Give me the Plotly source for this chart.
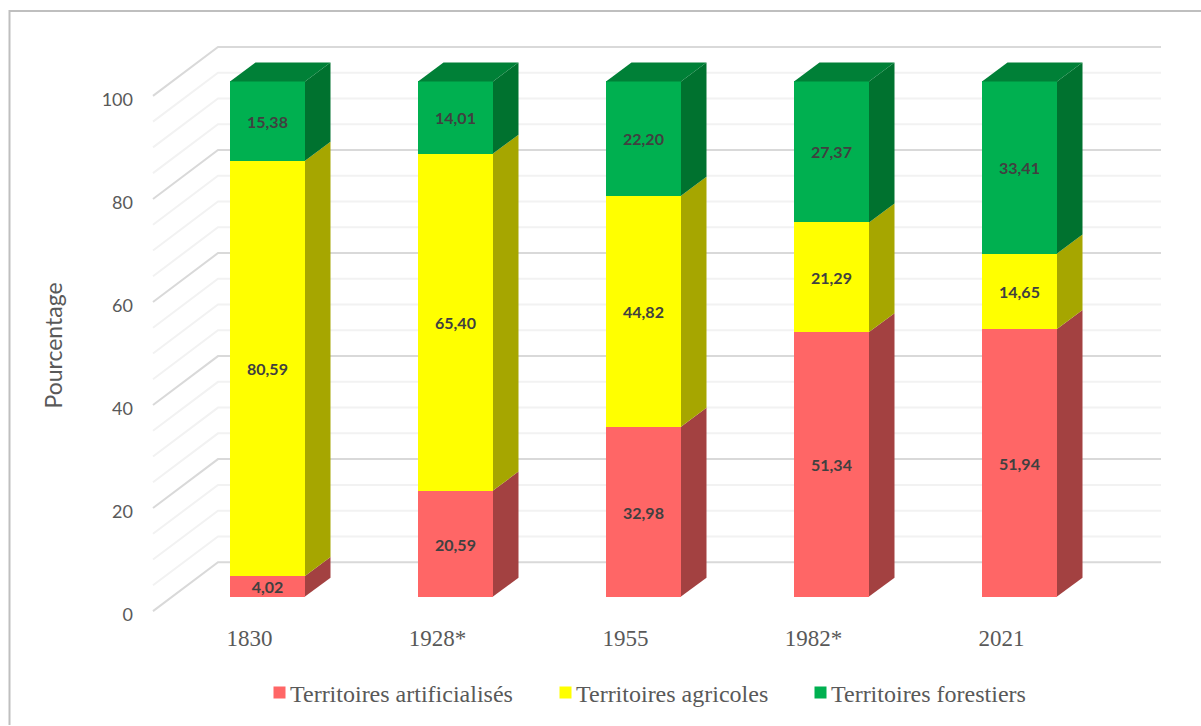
import plotly.graph_objects as go

# ---- data ----
categories = ["1830", "1928*", "1955", "1982*", "2021"]
artificialises = [4.02, 20.59, 32.98, 51.34, 51.94]
agricoles = [80.59, 65.40, 44.82, 21.29, 14.65]
forestiers = [15.38, 14.01, 22.20, 27.37, 33.41]
y_ticks = [0, 20, 40, 60, 80, 100]
grid_minor = [5, 10, 15, 25, 30, 35, 45, 50, 55, 65, 70, 75, 85, 90, 95]
series_names = ["Territoires artificialisés", "Territoires agricoles", "Territoires forestiers"]

# ---- styles ----
FRONT = ["#FF6666", "#FFFF00", "#00B050"]
SIDE = ["#A34141", "#A6A600", "#00722F"]
TOP = "#008037"
TXT = "#595959"
LBL = "#404040"
SANS = "Lato"
SERIF = "Liberation Serif"

# ---- geometry, in axis units (1 x unit = one category, 1 y unit = one percent) ----
W, H = 1201, 726
PX_X = 188.0
PX_Y = 5.16
X0_PX = 267.5
Y0_PX = 597.5
ML, MR, MT, MB = 140, 36, 31, 65
BAR_W = 75 / PX_X
DX = 25.5 / PX_X
DY = 19.0 / PX_Y
FRONT_Y = -14.5 / PX_Y
BACK_Y = 34.5 / PX_Y
FRONT_X = (153 - X0_PX) / PX_X
BACK_X = (218 - X0_PX) / PX_X
RIGHT_X = (1161 - X0_PX) / PX_X
LABEL_SHIFT = -18.0 / PX_X
TICK_Y_SHIFT = -3.5 / PX_Y

x_pos = list(range(len(categories)))
series = [artificialises, agricoles, forestiers]
legend_ids = ["legend", "legend2", "legend3"]

fig = go.Figure()


def lab(v):
    return f"{v:.2f}".replace(".", ",")


# front faces
for k, vals in enumerate(series):
    fig.add_trace(go.Bar(
        x=x_pos, y=vals, width=BAR_W, name=series_names[k], legend=legend_ids[k],
        marker=dict(color=FRONT[k], line=dict(width=0)),
        text=[lab(v) for v in vals], textposition="inside", textangle=0,
        insidetextanchor="middle", constraintext="none",
        textfont=dict(family=SANS, size=16, color=LBL, weight="bold"),
        hovertemplate="%{y:.2f}<extra>" + series_names[k] + "</extra>",
    ))

# side faces and top faces
base = [0.0] * len(categories)
for k, vals in enumerate(series):
    for i, v in enumerate(vals):
        xr = i + BAR_W / 2
        y0, y1 = base[i], base[i] + v
        fig.add_trace(go.Scatter(
            x=[xr, xr + DX, xr + DX, xr, xr],
            y=[y0, y0 + DY, y1 + DY, y1, y0],
            mode="lines", fill="toself", fillcolor=SIDE[k], line=dict(width=0),
            hoverinfo="skip", showlegend=False,
        ))
        if k == len(series) - 1:
            xl = i - BAR_W / 2
            fig.add_trace(go.Scatter(
                x=[xl, xr, xr + DX, xl + DX, xl],
                y=[y1, y1, y1 + DY, y1 + DY, y1],
                mode="lines", fill="toself", fillcolor=TOP, line=dict(width=0),
                hoverinfo="skip", showlegend=False,
            ))
        base[i] = y1

plot_h = H - MT - MB
plot_w = W - ML - MR

# 3D wall gridlines
shapes = []
for vals, col in ((grid_minor, "#F2F2F2"), (y_ticks, "#D9D9D9")):
    for v in vals:
        shapes.append(dict(
            type="path", xref="x", yref="y", layer="below",
            path=f"M {FRONT_X} {v + FRONT_Y} L {BACK_X} {v + BACK_Y} L {RIGHT_X} {v + BACK_Y}",
            line=dict(color=col, width=2),
        ))
# chart frame (top and left edges visible in the crop)
frame_l = (9.5 - ML) / plot_w
frame_r = (W - ML) / plot_w
frame_t = (H - MB - 11) / plot_h
frame_b = -MB / plot_h
shapes.append(dict(type="path", xref="paper", yref="paper", layer="below",
                   path=f"M {frame_l} {frame_b} L {frame_l} {frame_t} L {frame_r} {frame_t}",
                   line=dict(color="#BFBFBF", width=2)))

leg_y = (H - MB - 693) / plot_h


def leg_x(px):
    return (px - ML) / plot_w


leg_common = dict(orientation="h", yanchor="middle", xanchor="left", y=leg_y,
                  bgcolor="rgba(0,0,0,0)", font=dict(family=SERIF, size=24, color=TXT),
                  itemclick=False, itemdoubleclick=False)

fig.update_layout(
    width=W, height=H, autosize=False,
    paper_bgcolor="white", plot_bgcolor="white",
    margin=dict(l=ML, r=MR, t=MT, b=MB, pad=0),
    barmode="stack", bargap=0, shapes=shapes,
    xaxis=dict(
        range=[(ML - X0_PX) / PX_X, (W - MR - X0_PX) / PX_X],
        tickvals=[p + LABEL_SHIFT for p in x_pos], ticktext=categories,
        showgrid=False, zeroline=False, showline=False, ticks="",
        ticklabelstandoff=-38,
        tickfont=dict(family=SERIF, size=23, color=TXT),
    ),
    yaxis=dict(
        range=[(Y0_PX - (H - MB)) / PX_Y, (Y0_PX - MT) / PX_Y],
        tickvals=[v + FRONT_Y + TICK_Y_SHIFT for v in y_ticks], ticktext=[str(v) for v in y_ticks],
        showgrid=False, zeroline=False, showline=False, ticks="",
        ticklabelstandoff=6,
        tickfont=dict(family=SANS, size=18, color=TXT),
        title=dict(text="Pourcentage", font=dict(family=SANS, size=23, color=TXT), standoff=32),
    ),
    legend=dict(x=leg_x(250), **leg_common),
    legend2=dict(x=leg_x(536), **leg_common),
    legend3=dict(x=leg_x(791), **leg_common),
)

fig.write_html(
    "out.html",
    config={"displayModeBar": False},
    post_script=(
        "document.body.style.margin='0';"
        "document.querySelectorAll('.legendsymbols').forEach(function(s){"
        "s.setAttribute('transform','translate(9.5,0)');});"
    ),
)
